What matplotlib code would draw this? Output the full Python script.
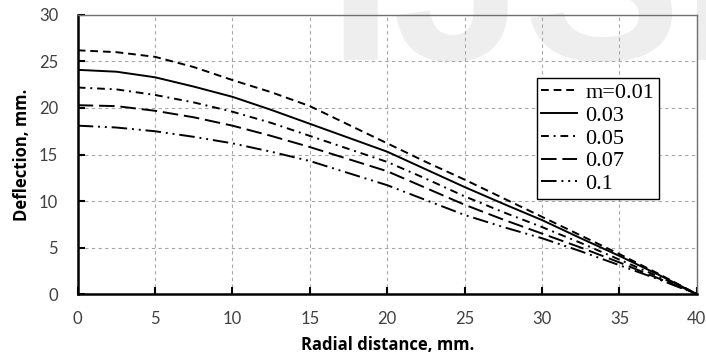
import matplotlib
matplotlib.use("Agg")
from matplotlib import pyplot as plt

# radial position along the plate, mm
r = [0, 2.5, 5, 7.5, 10, 12.5, 15, 17.5, 20, 22.5, 25, 27.5, 30, 32.5, 35, 37.5, 40]

# deflection for each value of m
w_001 = [26.2, 26.0, 25.5, 24.4, 23.0, 21.7, 20.2, 18.2, 16.2, 14.2, 12.3, 10.3, 8.3, 6.3, 4.3, 2.2, 0]
w_003 = [24.1, 23.9, 23.3, 22.3, 21.2, 19.8, 18.3, 16.8, 15.3, 13.4, 11.5, 9.7, 7.95, 6.0, 4.1, 2.1, 0]
w_005 = [22.2, 22.0, 21.4, 20.6, 19.6, 18.4, 17.0, 15.6, 14.2, 12.4, 10.5, 8.8, 7.2, 5.5, 3.7, 1.9, 0]
w_007 = [20.3, 20.2, 19.7, 19.0, 18.1, 17.0, 15.8, 14.5, 13.2, 11.4, 9.6, 8.0, 6.5, 5.0, 3.4, 1.7, 0]
w_010 = [18.1, 17.9, 17.5, 16.9, 16.2, 15.3, 14.3, 13.0, 11.7, 10.1, 8.5, 7.2, 6.0, 4.6, 3.1, 1.6, 0]

labels = ["m=0.01", "0.03", "0.05", "0.07", "0.1"]

fig = plt.figure(figsize=(7.06, 3.56), dpi=100)
ax = fig.add_axes([0.110, 0.174, 0.877, 0.784])
ax.set_facecolor("none")

# faint journal mark behind the plot
fig.text(0.463, 0.831, "IJSER", fontsize=170, fontweight="bold", color="#eeeeee",
         ha="left", va="baseline", zorder=-10, family="Liberation Sans")

lw = 1.4
ax.plot(r, w_001, color="black", lw=lw, dashes=(4, 2.5), label=labels[0])
ax.plot(r, w_003, color="black", lw=lw, label=labels[1])
ax.plot(r, w_005, color="black", lw=lw, dashes=(4, 2.5, 1, 2.5), label=labels[2])
ax.plot(r, w_007, color="black", lw=lw, dashes=(8, 3), label=labels[3])
ax.plot(r, w_010, color="black", lw=lw, dashes=(8, 2.5, 1, 2.5, 1, 2.5), label=labels[4])

ax.set_xlim(0, 40)
ax.set_ylim(0, 30)
ax.set_xticks(range(0, 41, 5))
ax.set_yticks(range(0, 31, 5))
ax.grid(True, color="#a6a6a6", lw=0.8, dashes=(3, 3))
ax.set_axisbelow(True)

for side in ["left", "bottom"]:
    ax.spines[side].set_linewidth(1.8)
    ax.spines[side].set_color("black")
for side in ["top", "right"]:
    ax.spines[side].set_linewidth(1.0)
    ax.spines[side].set_color("#707070")

ax.tick_params(axis="both", direction="in", length=5, width=1.5, labelsize=12,
               labelcolor="#404040")
ax.tick_params(axis="x", pad=12.5)
ax.tick_params(axis="y", pad=14)
for t in ax.get_xticklabels() + ax.get_yticklabels():
    t.set_family("Lato")

ax.set_xlabel("Radial distance, mm.", fontsize=12, fontweight="bold", family="Open Sans",
              labelpad=6.5)
ax.set_ylabel("Deflection, mm.", fontsize=12, fontweight="bold", family="Open Sans",
              labelpad=6)

leg = ax.legend(loc="upper right", bbox_to_anchor=(0.9386, 0.774), fancybox=False,
                edgecolor="black", framealpha=1, borderpad=0.2, labelspacing=0.1,
                handlelength=1.6, handletextpad=0.4, borderaxespad=0,
                prop={"family": "Liberation Serif", "size": 16})
leg.get_frame().set_linewidth(1.0)
leg.set_zorder(5)

fig.savefig("out.png", dpi=100)
